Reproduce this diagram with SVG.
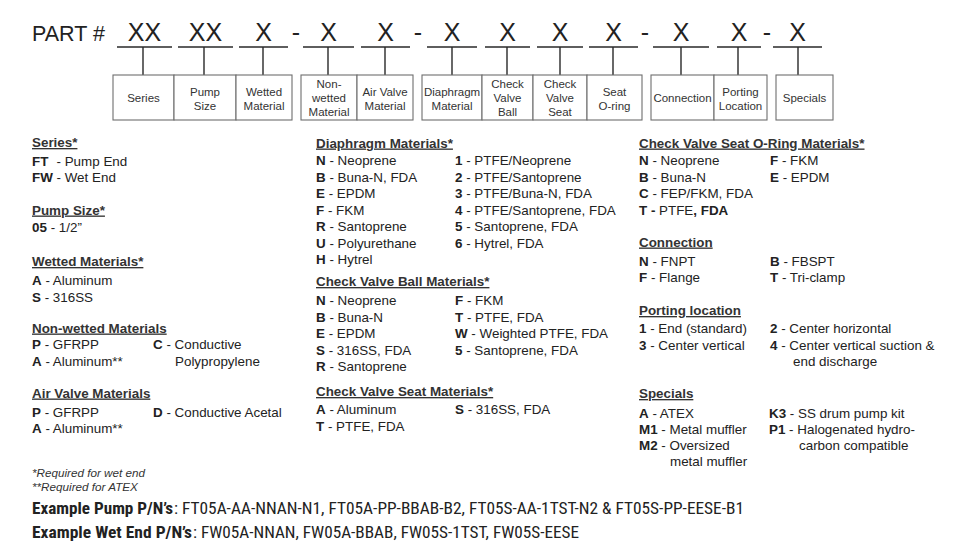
<svg xmlns="http://www.w3.org/2000/svg" width="960" height="555" viewBox="0 0 960 555">
<style>
.big{font-family:"Liberation Sans",Arial,sans-serif;font-size:25px;fill:#222;text-anchor:middle}
.part{font-family:"Liberation Sans",Arial,sans-serif;font-size:21.5px;fill:#222}
.bx{fill:#fff;stroke:#6e6e6e;stroke-width:1.1}
.bl{font-family:"Liberation Sans",Arial,sans-serif;font-size:11.5px;fill:#333;text-anchor:middle}
.ul{stroke:#2a2a2a;stroke-width:1.6;fill:none}
.st{stroke:#2a2a2a;stroke-width:1.4;fill:none}
.t{font-family:"Liberation Sans",Arial,sans-serif;font-size:13.4px;fill:#222}
.h{font-family:"Liberation Sans",Arial,sans-serif;font-size:13.4px;fill:#333;font-weight:bold;text-decoration:underline}
.b{font-weight:bold}
.fn{font-family:"Liberation Sans",Arial,sans-serif;font-size:11.7px;fill:#333;font-style:italic}
.ex{font-family:"Liberation Sans Narrow","Roboto Condensed",Roboto,"Liberation Sans",sans-serif;font-size:16.5px;fill:#222}
</style>
<rect width="960" height="555" fill="#fff"/>
<g id="part-code">
<text class="part" x="32" y="41">PART #</text>
<text class="big" x="144.5" y="41">XX</text>
<text class="big" x="205.5" y="41">XX</text>
<text class="big" x="263.5" y="41">X</text>
<text class="big" x="296" y="41">-</text>
<text class="big" x="328.5" y="41">X</text>
<text class="big" x="385.5" y="41">X</text>
<text class="big" x="418" y="41">-</text>
<text class="big" x="452" y="41">X</text>
<text class="big" x="507.5" y="41">X</text>
<text class="big" x="560" y="41">X</text>
<text class="big" x="613.5" y="41">X</text>
<text class="big" x="645" y="41">-</text>
<text class="big" x="681" y="41">X</text>
<text class="big" x="739" y="41">X</text>
<text class="big" x="767" y="41">-</text>
<text class="big" x="797.5" y="41">X</text>
<path class="ul" d="M117 47H172M178 47H233M239 47H288M303 47H354M361 47H410M427 47H477M485 47H530M537 47H583M589 47H638M653 47H709M717 47H761M773 47H822"/>
</g>
<g id="connectors">
<path class="st" d="M143 47V75M204 47V75M263 47V75M328 47V75M385 47V75M452 47V75M507 47V75M560 47V75M613 47V75M681 47V75M738 47V75M798 47V75"/>
</g>
<g id="node-series"><rect class="bx" x="113" y="75" width="61" height="45"/><text class="bl" x="143.5" y="102">Series</text></g>
<g id="node-pump-size"><rect class="bx" x="174" y="75" width="62" height="45"/><text class="bl" x="205" y="96">Pump</text><text class="bl" x="205" y="109.5">Size</text></g>
<g id="node-wetted"><rect class="bx" x="236" y="75" width="56" height="45"/><text class="bl" x="264" y="96">Wetted</text><text class="bl" x="264" y="109.5">Material</text></g>
<g id="node-nonwetted"><rect class="bx" x="301" y="75" width="56" height="45"/><text class="bl" x="329" y="88">Non-</text><text class="bl" x="329" y="102">wetted</text><text class="bl" x="329" y="116">Material</text></g>
<g id="node-airvalve"><rect class="bx" x="357" y="75" width="56" height="45"/><text class="bl" x="385" y="96">Air Valve</text><text class="bl" x="385" y="109.5">Material</text></g>
<g id="node-diaphragm"><rect class="bx" x="422" y="75" width="60" height="45"/><text class="bl" x="452" y="96">Diaphragm</text><text class="bl" x="452" y="109.5">Material</text></g>
<g id="node-ball"><rect class="bx" x="482" y="75" width="51" height="45"/><text class="bl" x="507.5" y="88">Check</text><text class="bl" x="507.5" y="102">Valve</text><text class="bl" x="507.5" y="116">Ball</text></g>
<g id="node-seat"><rect class="bx" x="533" y="75" width="54" height="45"/><text class="bl" x="560" y="88">Check</text><text class="bl" x="560" y="102">Valve</text><text class="bl" x="560" y="116">Seat</text></g>
<g id="node-oring"><rect class="bx" x="587" y="75" width="55" height="45"/><text class="bl" x="614.5" y="96">Seat</text><text class="bl" x="614.5" y="109.5">O-ring</text></g>
<g id="node-connection"><rect class="bx" x="651" y="75" width="63" height="45"/><text class="bl" x="682.5" y="102">Connection</text></g>
<g id="node-porting"><rect class="bx" x="714" y="75" width="53" height="45"/><text class="bl" x="740.5" y="96">Porting</text><text class="bl" x="740.5" y="109.5">Location</text></g>
<g id="node-specials"><rect class="bx" x="776" y="75" width="57" height="45"/><text class="bl" x="804.5" y="102">Specials</text></g>

<g id="legend-col1">
<text class="h" x="32" y="147">Series*</text>
<text class="t" x="32" y="165.5"><tspan class="b">FT</tspan><tspan x="56.5">- Pump End</tspan></text>
<text class="t" x="32" y="182"><tspan class="b">FW</tspan> - Wet End</text>
<text class="h" x="32" y="214.5">Pump Size*</text>
<text class="t" x="32" y="232"><tspan class="b">05</tspan> - 1/2”</text>
<text class="h" x="32" y="266">Wetted Materials*</text>
<text class="t" x="32" y="285"><tspan class="b">A</tspan> - Aluminum</text>
<text class="t" x="32" y="301.5"><tspan class="b">S</tspan> - 316SS</text>
<text class="h" x="32" y="332.5">Non-wetted Materials</text>
<text class="t" x="32" y="349"><tspan class="b">P</tspan> - GFRPP</text>
<text class="t" x="32" y="365.5"><tspan class="b">A</tspan> - Aluminum**</text>
<text class="t" x="153" y="349"><tspan class="b">C</tspan> - Conductive</text>
<text class="t" x="175" y="365.5">Polypropylene</text>
<text class="h" x="32" y="397.5">Air Valve Materials</text>
<text class="t" x="32" y="417"><tspan class="b">P</tspan> - GFRPP</text>
<text class="t" x="32" y="433"><tspan class="b">A</tspan> - Aluminum**</text>
<text class="t" x="153" y="417"><tspan class="b">D</tspan> - Conductive Acetal</text>
</g>

<g id="legend-col2">
<text class="h" x="316" y="147.5">Diaphragm Materials*</text>
<text class="t" x="316" y="165"><tspan class="b">N</tspan> - Neoprene</text>
<text class="t" x="316" y="181.5"><tspan class="b">B</tspan> - Buna-N, FDA</text>
<text class="t" x="316" y="198"><tspan class="b">E</tspan> - EPDM</text>
<text class="t" x="316" y="214.5"><tspan class="b">F</tspan> - FKM</text>
<text class="t" x="316" y="231"><tspan class="b">R</tspan> - Santoprene</text>
<text class="t" x="316" y="247.5"><tspan class="b">U</tspan> - Polyurethane</text>
<text class="t" x="316" y="264"><tspan class="b">H</tspan> - Hytrel</text>
<text class="t" x="455" y="165"><tspan class="b">1</tspan> - PTFE/Neoprene</text>
<text class="t" x="455" y="181.5"><tspan class="b">2</tspan> - PTFE/Santoprene</text>
<text class="t" x="455" y="198"><tspan class="b">3</tspan> - PTFE/Buna-N, FDA</text>
<text class="t" x="455" y="214.5"><tspan class="b">4</tspan> - PTFE/Santoprene, FDA</text>
<text class="t" x="455" y="231"><tspan class="b">5</tspan> - Santoprene, FDA</text>
<text class="t" x="455" y="247.5"><tspan class="b">6</tspan> - Hytrel, FDA</text>
<text class="h" x="316" y="286">Check Valve Ball Materials*</text>
<text class="t" x="316" y="305"><tspan class="b">N</tspan> - Neoprene</text>
<text class="t" x="316" y="321.5"><tspan class="b">B</tspan> - Buna-N</text>
<text class="t" x="316" y="338"><tspan class="b">E</tspan> - EPDM</text>
<text class="t" x="316" y="354.5"><tspan class="b">S</tspan> - 316SS, FDA</text>
<text class="t" x="316" y="370.5"><tspan class="b">R</tspan> - Santoprene</text>
<text class="t" x="455" y="305"><tspan class="b">F</tspan> - FKM</text>
<text class="t" x="455" y="321.5"><tspan class="b">T</tspan> - PTFE, FDA</text>
<text class="t" x="455" y="338"><tspan class="b">W</tspan> - Weighted PTFE, FDA</text>
<text class="t" x="455" y="354.5"><tspan class="b">5</tspan> - Santoprene, FDA</text>
<text class="h" x="316" y="396">Check Valve Seat Materials*</text>
<text class="t" x="316" y="414"><tspan class="b">A</tspan> - Aluminum</text>
<text class="t" x="316" y="431"><tspan class="b">T</tspan> - PTFE, FDA</text>
<text class="t" x="455" y="414"><tspan class="b">S</tspan> - 316SS, FDA</text>
</g>

<g id="legend-col3">
<text class="h" x="639" y="147.5">Check Valve Seat O-Ring Materials*</text>
<text class="t" x="639" y="165"><tspan class="b">N</tspan> - Neoprene</text>
<text class="t" x="639" y="181.5"><tspan class="b">B</tspan> - Buna-N</text>
<text class="t" x="639" y="198"><tspan class="b">C</tspan> - FEP/FKM, FDA</text>
<text class="t" x="639" y="215"><tspan class="b">T -</tspan> PTFE<tspan class="b">, FDA</tspan></text>
<text class="t" x="770" y="165"><tspan class="b">F</tspan> - FKM</text>
<text class="t" x="770" y="181.5"><tspan class="b">E</tspan> - EPDM</text>
<text class="h" x="639" y="246.5">Connection</text>
<text class="t" x="639" y="265.5"><tspan class="b">N</tspan> - FNPT</text>
<text class="t" x="639" y="282"><tspan class="b">F</tspan> - Flange</text>
<text class="t" x="770" y="265.5"><tspan class="b">B</tspan> - FBSPT</text>
<text class="t" x="770" y="282"><tspan class="b">T</tspan> - Tri-clamp</text>
<text class="h" x="639" y="315">Porting location</text>
<text class="t" x="639" y="333"><tspan class="b">1</tspan> - End (standard)</text>
<text class="t" x="639" y="349.5"><tspan class="b">3</tspan> - Center vertical</text>
<text class="t" x="770" y="333"><tspan class="b">2</tspan> - Center horizontal</text>
<text class="t" x="770" y="349.5"><tspan class="b">4</tspan> - Center vertical suction &amp;</text>
<text class="t" x="793" y="366">end discharge</text>
<text class="h" x="639" y="398">Specials</text>
<text class="t" x="639" y="417.5"><tspan class="b">A</tspan> - ATEX</text>
<text class="t" x="639" y="433.5"><tspan class="b">M1</tspan> - Metal muffler</text>
<text class="t" x="639" y="450"><tspan class="b">M2</tspan> - Oversized</text>
<text class="t" x="670" y="466">metal muffler</text>
<text class="t" x="769" y="417.5"><tspan class="b">K3</tspan> - SS drum pump kit</text>
<text class="t" x="769" y="433.5"><tspan class="b">P1</tspan> - Halogenated hydro-</text>
<text class="t" x="799" y="450">carbon compatible</text>
</g>

<g id="footer">
<text class="fn" x="32" y="477">*Required for wet end</text>
<text class="fn" x="32" y="491">**Required for ATEX</text>
<text class="ex b" x="32" y="514" textLength="141" lengthAdjust="spacingAndGlyphs">Example Pump P/N’s</text>
<text class="ex" x="174" y="514" textLength="570" lengthAdjust="spacingAndGlyphs">: FT05A-AA-NNAN-N1, FT05A-PP-BBAB-B2, FT05S-AA-1TST-N2 &amp; FT05S-PP-EESE-B1</text>
<text class="ex b" x="32" y="537.5" textLength="160" lengthAdjust="spacingAndGlyphs">Example Wet End P/N’s</text>
<text class="ex" x="193" y="537.5" textLength="386" lengthAdjust="spacingAndGlyphs">: FW05A-NNAN, FW05A-BBAB, FW05S-1TST, FW05S-EESE</text>
</g>
</svg>
